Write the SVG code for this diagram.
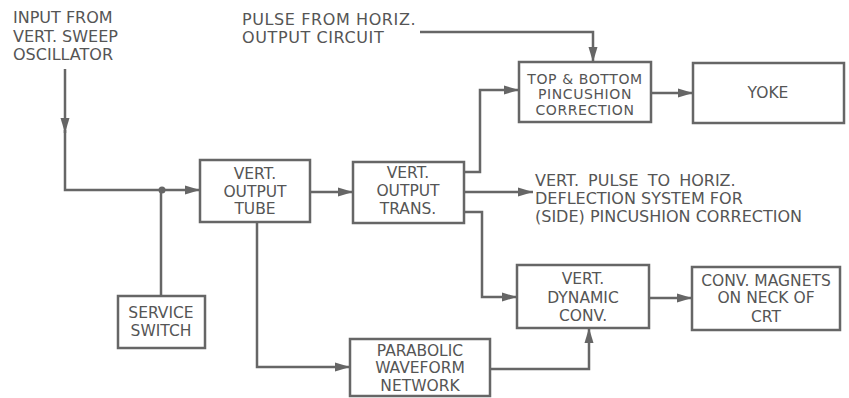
<svg xmlns="http://www.w3.org/2000/svg" width="849" height="398" viewBox="0 0 849 398">
<style>
.box{fill:#fff;stroke:#666;stroke-width:2.5}
.ln{fill:none;stroke:#666;stroke-width:2.5}
text{font-family:"DejaVu Sans","Liberation Sans",sans-serif;font-size:16px;fill:#555}
.c{text-anchor:middle;font-size:15.5px}
.tb{font-size:14px;letter-spacing:0.6px}
</style>
<defs>
<marker id="ah" markerUnits="userSpaceOnUse" markerWidth="16" markerHeight="10" refX="15" refY="5" orient="auto">
<path d="M0,0.5 L15,5 L0,9.5 Z" fill="#666"/>
</marker>
</defs>
<rect width="849" height="398" fill="#fff"/>
<g id="labels">
<text x="13" y="23">INPUT FROM</text>
<text x="13" y="41.5">VERT. SWEEP</text>
<text x="13" y="60">OSCILLATOR</text>
<text x="242" y="25" letter-spacing="0.6">PULSE FROM HORIZ.</text>
<text x="242" y="43" letter-spacing="0.6">OUTPUT CIRCUIT</text>
<text x="535" y="186" word-spacing="4">VERT. PULSE TO HORIZ.</text>
<text x="535" y="204">DEFLECTION SYSTEM FOR</text>
<text x="535" y="222">(SIDE) PINCUSHION CORRECTION</text>
</g>
<g id="connectors">
<path class="ln" d="M65 69 V133" marker-end="url(#ah)"/>
<path class="ln" d="M65 130 V190 H200" marker-end="url(#ah)"/>
<circle cx="162" cy="190" r="3.5" fill="#666"/>
<path class="ln" d="M161 190 V296"/>
<path class="ln" d="M310 192 H353" marker-end="url(#ah)"/>
<path class="ln" d="M464 172 H480 V90 H519" marker-end="url(#ah)"/>
<path class="ln" d="M464 192 H533" marker-end="url(#ah)"/>
<path class="ln" d="M464 212 H482 V297 H517" marker-end="url(#ah)"/>
<path class="ln" d="M420 32 H593 V62" marker-end="url(#ah)"/>
<path class="ln" d="M651 93 H693" marker-end="url(#ah)"/>
<path class="ln" d="M649 298 H692" marker-end="url(#ah)"/>
<path class="ln" d="M257 222 V367 H350" marker-end="url(#ah)"/>
<path class="ln" d="M490 369 H589 V328" marker-end="url(#ah)"/>
</g>
<g id="tube">
<rect class="box" x="200" y="160" width="110" height="62"/>
<text class="c" x="255" y="179">VERT.</text>
<text class="c" x="255" y="197">OUTPUT</text>
<text class="c" x="255" y="214">TUBE</text>
</g>
<g id="trans">
<rect class="box" x="353" y="162" width="111" height="61"/>
<text class="c" x="408" y="178">VERT.</text>
<text class="c" x="408" y="196">OUTPUT</text>
<text class="c" x="408" y="214">TRANS.</text>
</g>
<g id="topbottom">
<rect class="box" x="519" y="62" width="132" height="60"/>
<text class="c tb" x="585" y="83.5">TOP &amp; BOTTOM</text>
<text class="c tb" x="585" y="99">PINCUSHION</text>
<text class="c tb" x="585" y="114.5">CORRECTION</text>
</g>
<g id="yoke">
<rect class="box" x="693" y="63" width="151" height="60"/>
<text class="c" x="768" y="98">YOKE</text>
</g>
<g id="dynamic">
<rect class="box" x="517" y="265" width="132" height="63"/>
<text class="c" x="583" y="284">VERT.</text>
<text class="c" x="583" y="303">DYNAMIC</text>
<text class="c" x="583" y="321">CONV.</text>
</g>
<g id="magnets">
<rect class="box" x="692" y="267" width="148" height="63"/>
<text class="c" x="766" y="286">CONV. MAGNETS</text>
<text class="c" x="766" y="303">ON NECK OF</text>
<text class="c" x="766" y="322">CRT</text>
</g>
<g id="service">
<rect class="box" x="118" y="296" width="87" height="52"/>
<text class="c" x="161" y="318">SERVICE</text>
<text class="c" x="161" y="336">SWITCH</text>
</g>
<g id="parabolic">
<rect class="box" x="350" y="339" width="140" height="57"/>
<text class="c" x="420" y="356">PARABOLIC</text>
<text class="c" x="420" y="373">WAVEFORM</text>
<text class="c" x="420" y="391">NETWORK</text>
</g>
</svg>
